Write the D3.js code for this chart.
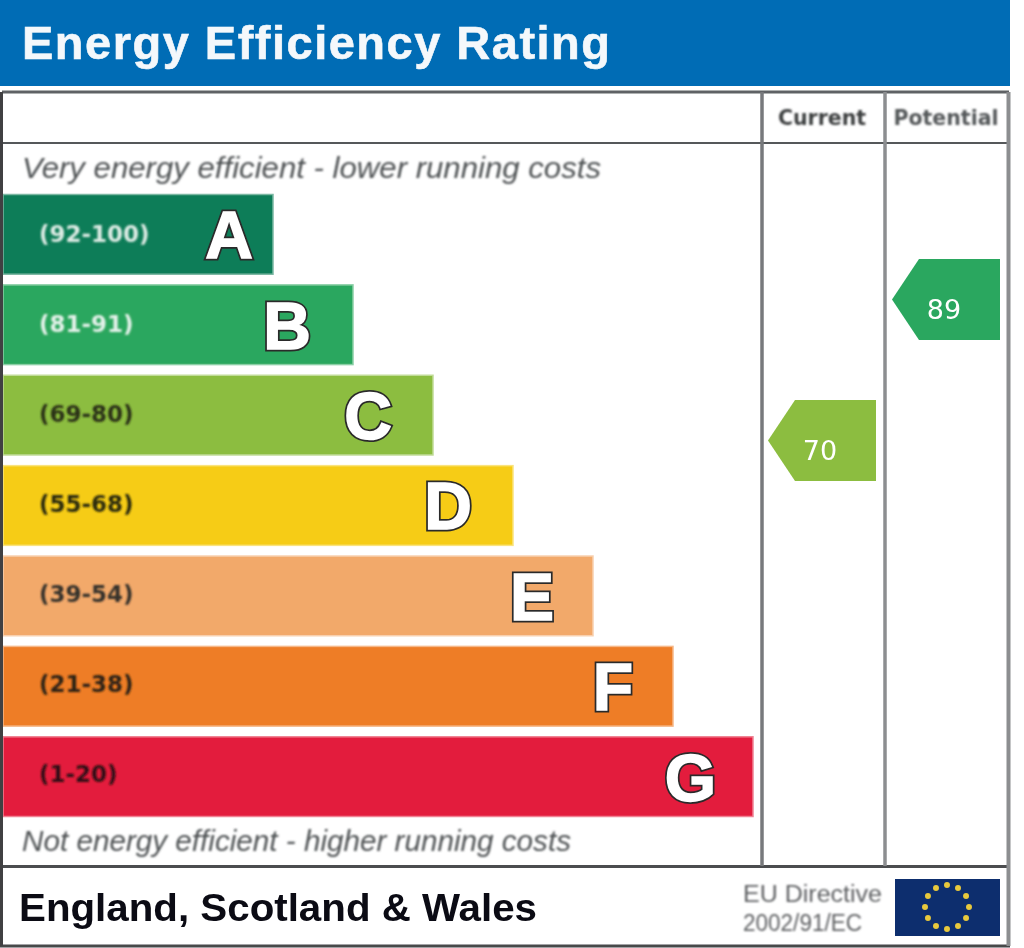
<!DOCTYPE html>
<html>
<head>
<meta charset="utf-8">
<script src="https://cdn.jsdelivr.net/npm/d3@7"></script>
<style>
  html, body { margin: 0; padding: 0; background: #fff; }
  svg { display: block; }
  text { font-family: "Liberation Sans", Arial, sans-serif; }
</style>
</head>
<body>
<div id="chart"></div>
<script>
const letters = ['A', 'B', 'C', 'D', 'E', 'F', 'G']
const ranges = ['(92-100)', '(81-91)', '(69-80)', '(55-68)', '(39-54)', '(21-38)', '(1-20)']
const bandColors = ['#0f7d58', '#2ca75e', '#8cbd40', '#f6cc15', '#f2a96b', '#ee7d26', '#e31d3c']
const rangeColors = ['#dcebe4', '#e4f2ea', '#2b3018', '#2c2a10', '#35302a', '#2e2414', '#301015']
const ranks = [1, 2, 3, 4, 5, 6, 7]
const scoreNames = ['Current', 'Potential']
const scores = [70, 89]
const scoreColors = ['#8cbd40', '#2ca75e']
const directive = ['EU Directive', '2002/91/EC']

const width = 1024
const height = 948
const letterInsets = [20, 42, 41, 41, 39, 40, 37]

const svg = d3.select('#chart').append('svg')
  .attr('width', width)
  .attr('height', height)

// 源图是放大过的位图，整体稍微糊一点
const defs = svg.append('defs')
defs.append('filter').attr('id', 'soft')
  .append('feGaussianBlur').attr('stdDeviation', 0.9)
defs.append('filter').attr('id', 'edge')
  .attr('filterUnits', 'userSpaceOnUse')
  .attr('x', 0).attr('y', 0).attr('width', width).attr('height', height)
  .append('feGaussianBlur').attr('stdDeviation', 0.5)

const root = svg.append('g').attr('filter', 'url(#edge)')

const x = d3.scaleLinear().domain([0, 7]).range([193, 753])
const y = d3.scaleBand().domain(letters).range([194.5, 816.5]).paddingInner(0.118)
const scoreX = d3.scaleBand().domain(scoreNames).range([760, 1008]).padding(0)
const scoreY = d3.scaleLinear().domain([70, 89]).range([440.5, 299.5])

// 标题栏
root.append('rect')
  .attr('x', -2).attr('y', -2)
  .attr('width', 1012).attr('height', 88)
  .attr('fill', '#006cb5')
root.append('text')
  .attr('x', 22).attr('y', 59)
  .attr('fill', '#f4f8fb')
  .attr('stroke', '#f4f8fb')
  .attr('stroke-width', 0.6)
  .attr('font-size', 47)
  .attr('font-weight', 'bold')
  .attr('textLength', 588)
  .attr('lengthAdjust', 'spacing')
  .text('Energy Efficiency Rating')

// 列标题
root.append('g').selectAll('text')
  .data(scoreNames).join('text')
  .attr('x', d => scoreX(d) + scoreX.bandwidth() / 2)
  .attr('y', 125)
  .attr('text-anchor', 'middle')
  .attr('font-size', 20.5)
  .attr('font-weight', 'bold')
  .attr('fill', d => d === 'Current' ? '#3d3f41' : '#55585a')
  .style('font-family', '"DejaVu Sans"')
  .attr('filter', 'url(#soft)')
  .text(d => d)

// 上下两行说明
root.append('text')
  .attr('x', 22).attr('y', 178)
  .attr('font-size', 29).attr('font-style', 'italic')
  .attr('fill', '#4f5254')
  .attr('textLength', 579)
  .attr('lengthAdjust', 'spacingAndGlyphs')
  .attr('filter', 'url(#soft)')
  .text('Very energy efficient - lower running costs')
root.append('text')
  .attr('x', 22).attr('y', 851)
  .attr('font-size', 29).attr('font-style', 'italic')
  .attr('fill', '#4f5254')
  .attr('textLength', 549)
  .attr('lengthAdjust', 'spacingAndGlyphs')
  .attr('filter', 'url(#soft)')
  .text('Not energy efficient - higher running costs')

// 等级条
const bars = root.append('g').selectAll('g')
  .data(letters).join('g')
  .attr('transform', d => `translate(0,${y(d)})`)
bars.append('rect')
  .attr('x', 3)
  .attr('width', (d, i) => x(ranks[i]) - 3)
  .attr('height', y.bandwidth())
  .attr('fill', (d, i) => bandColors[i])
  .attr('stroke', (d, i) => d3.interpolateRgb(bandColors[i], '#fff')(0.45))
  .attr('stroke-width', 1.5)
bars.append('text')
  .attr('x', 39)
  .attr('y', (d, i) => y.bandwidth() / 2 + 8 - i * 0.45)
  .attr('font-size', 23)
  .attr('font-weight', 'bold')
  .style('font-family', '"DejaVu Sans"')
  .attr('fill', (d, i) => rangeColors[i])
  .attr('filter', 'url(#soft)')
  .text((d, i) => ranges[i])
// 字母先画深色描边，再叠一层白色加粗
const letterText = g => g
  .attr('x', (d, i) => x(ranks[i]) - letterInsets[i])
  .attr('y', y.bandwidth() / 2 + 24)
  .attr('text-anchor', 'end')
  .attr('font-size', 66)
  .attr('font-weight', 'bold')
  .text(d => d)
bars.append('text').call(letterText)
  .attr('fill', '#2a2a2a')
  .attr('stroke', '#2a2a2a')
  .attr('stroke-width', 5)
bars.append('text').call(letterText)
  .attr('fill', '#fff')
  .attr('stroke', '#fff')
  .attr('stroke-width', 1.5)

// 外框和分隔线
const frame = root.append('g').attr('fill', 'none')
frame.append('path').attr('d', 'M2,92H1009').attr('stroke', '#5f6265').attr('stroke-width', 3)
frame.append('path').attr('d', 'M2,143H1008').attr('stroke', '#55585a').attr('stroke-width', 2)
frame.append('path').attr('d', 'M2,866.5H1008').attr('stroke', '#4b4d4f').attr('stroke-width', 3)
frame.append('path').attr('d', 'M0,946H1010').attr('stroke', '#46484a').attr('stroke-width', 3)
frame.append('path').attr('d', 'M1.5,92V946').attr('stroke', '#3f4143').attr('stroke-width', 3)
frame.append('path').attr('d', 'M1008.5,92V946').attr('stroke', '#8c8e90').attr('stroke-width', 4)
frame.append('path').attr('d', 'M762,92V866').attr('stroke', '#77797b').attr('stroke-width', 3.5)
frame.append('path').attr('d', 'M885,92V866').attr('stroke', '#8c8e90').attr('stroke-width', 3.5)

// 当前、潜在评分箭头
const arrowLine = d3.line()
const arrows = root.append('g').selectAll('g')
  .data(scores).join('g')
  .attr('transform', (d, i) => `translate(${scoreX(scoreNames[i])},${scoreY(d)})`)
arrows.append('path')
  .attr('d', arrowLine([[8, 0], [35, -40.5], [116, -40.5], [116, 40.5], [35, 40.5]]) + 'Z')
  .attr('fill', (d, i) => scoreColors[i])
arrows.append('text')
  .attr('x', 60)
  .attr('y', 19)
  .attr('text-anchor', 'middle')
  .attr('font-size', 27)
  .style('font-family', '"DejaVu Sans"')
  .attr('fill', '#fff')
  .text(d => d)

// 底部
svg.append('text')
  .attr('x', 19).attr('y', 921)
  .attr('font-size', 39)
  .attr('font-weight', 'bold')
  .attr('fill', '#0b0b14')
  .attr('textLength', 518)
  .attr('lengthAdjust', 'spacingAndGlyphs')
  .text('England, Scotland & Wales')
root.append('g').selectAll('text')
  .data(directive).join('text')
  .attr('x', 743)
  .attr('y', (d, i) => 902 + i * 29)
  .attr('font-size', 23)
  .attr('fill', '#5f6163')
  .attr('textLength', (d, i) => [139, 119][i])
  .attr('lengthAdjust', 'spacingAndGlyphs')
  .attr('filter', 'url(#soft)')
  .text(d => d)

// 欧盟旗
const flag = root.append('g').attr('transform', 'translate(895,879)')
flag.append('rect').attr('width', 105).attr('height', 57).attr('fill', '#0c2f6e')
flag.append('g').selectAll('path')
  .data(d3.range(12)).join('path')
  .attr('d', d3.symbol(d3.symbolCircle, 28))
  .attr('fill', '#e8c93c')
  .attr('transform', d => {
    const a = d / 12 * 2 * Math.PI
    return `translate(${52 + 22 * Math.sin(a)},${28 - 22 * Math.cos(a)})`
  })
</script>
</body>
</html>
